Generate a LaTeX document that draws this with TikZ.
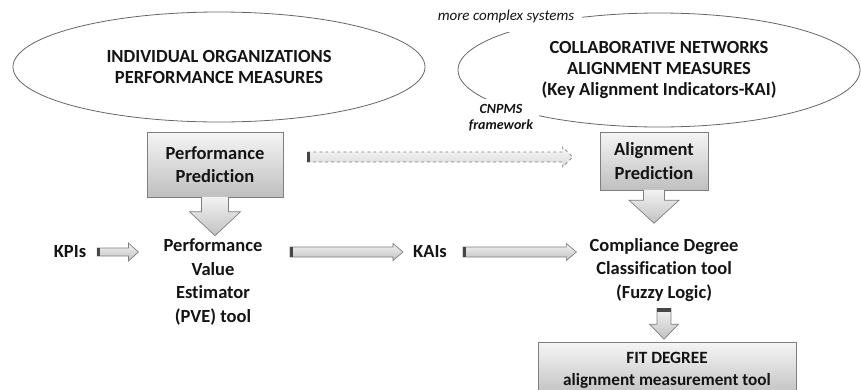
\documentclass[tikz,border=0pt]{standalone}
\usepackage{fontspec}
\setmainfont{Carlito}[Ligatures={NoCommon,NoContextual}]
\usetikzlibrary{shapes.geometric,calc}

\definecolor{rim}{HTML}{7F7F7F}
\definecolor{ink}{HTML}{141414}

\tikzset{
	txt/.style={font=\bfseries\fontsize{18.5}{23.5}\selectfont, align=center, text=ink, inner sep=0pt},
	oval/.style={ellipse, draw=rim!80!black, line width=0.8pt, font=\bfseries\fontsize{18.5}{21}\selectfont, align=center, text=ink},
	predbox/.style={rectangle, draw=rim, line width=0.7pt, top color=gray!8, bottom color=gray!50, txt},
	blockarrow/.style={draw=rim, line width=0.7pt, top color=gray!10, bottom color=gray!48},
	tailcap/.style={fill=gray!55!black},
}

% horizontal block arrow: [style]{from}{to}{shaft half}{head half}{head length}
\newcommand\harrow[6][]{%
	\path[blockarrow,#1] let \p1=#2, \p2=#3 in
		(\x1,\y1+#4pt) coordinate (ta) -- (\x2-#6pt,\y1+#4pt) -- (\x2-#6pt,\y1+#5pt) -- (\x2,\y1)
		-- (\x2-#6pt,\y1-#5pt) -- (\x2-#6pt,\y1-#4pt) -- (\x1,\y1-#4pt) -- cycle;
	\fill[tailcap] (ta) rectangle ++(3pt,-2*#4pt);}
% vertical block arrow, open at the top
\newcommand\varrow[6][]{%
	\path[blockarrow,#1] let \p1=#2, \p2=#3 in
		(\x1-#4pt,\y1) coordinate (ta) -- (\x1-#4pt,\y2+#6pt) -- (\x1-#5pt,\y2+#6pt) -- (\x1,\y2)
		-- (\x1+#5pt,\y2+#6pt) -- (\x1+#4pt,\y2+#6pt) -- (\x1+#4pt,\y1);}

\begin{document}
\begin{tikzpicture}[x=1pt,y=-1pt]
	\useasboundingbox (0,0) rectangle (861,389);
	% the two measure families
	\node (ind) at (219,67)	[oval, minimum width=412pt, minimum height=110pt, inner sep=0pt]	{INDIVIDUAL ORGANIZATIONS\\PERFORMANCE MEASURES};
	\node (cn) at (659,70)	[oval, minimum width=402pt, minimum height=114pt, inner sep=0pt]	{COLLABORATIVE NETWORKS\\ALIGNMENT MEASURES\\(Key Alignment Indicators-KAI)};
	\node (cmplx) at (506,16)	[fill=white, inner xsep=8pt, inner ysep=10pt, text=ink, font=\itshape\fontsize{15}{18}\selectfont]	{more complex systems};
	\node (cnpms) at (501,118)	[fill=white, inner sep=6pt, align=center, text=ink, font=\bfseries\itshape\fontsize{14}{16}\selectfont]	{CNPMS\\framework};

	% prediction boxes
	\node (pp) at (215,164.5)	[predbox, minimum width=136pt, minimum height=65pt]	{Performance\\Prediction};
	\node (ap) at (654,161)	[predbox, minimum width=108pt, minimum height=58pt]	{Alignment\\Prediction};

	% tools
	\node (kpi) at (70,252)	[txt]	{KPIs};
	\node (pve) at (213,282)	[txt]	{Performance\\Value\\Estimator\\(PVE) tool};
	\node (kai) at (430,252)	[txt]	{KAIs};
	\node (cdc) at (664,270)	[txt]	{Compliance Degree\\Classification tool\\(Fuzzy Logic)};
	\node (fit) at (667,370)	[predbox, minimum width=258pt, minimum height=55pt, font=\bfseries\fontsize{17.2}{22}\selectfont]	{FIT DEGREE\\alignment measurement tool};

	% block arrows
	\varrow{($(pp.south)+(0,-0.5)$)}{($(pve.north)+(0,-3)$)}{13.5}{25.5}{24}
	\varrow{($(ap.south)+(0,-0.5)$)}{($(cdc.north)+(0,-15)$)}{10.5}{25}{23}
	\harrow[dashed, top color=gray!5, bottom color=gray!30]{($(pp.east)+(24,-7.5)$)}{($(ap.west)+(-27,-4)$)}{5}{10}{10}
	\harrow{($(kpi.east)+(11,0)$)}{($(pve.west)+(-25,-30)$)}{4}{9}{10}
	\harrow{($(pve.east)+(27.5,-30)$)}{($(kai.west)+(-10,0)$)}{5}{8.5}{10}
	\harrow{($(kai.east)+(16,0)$)}{($(cdc.west)+(-13,-23)$)}{5}{8.5}{10}
	\varrow{($(cdc.south)+(0,6)$)}{($(fit.north)+(0,-3)$)}{7}{14.5}{15}
	\fill[tailcap] (ta) rectangle ++(14pt,-4pt);
\end{tikzpicture}
\end{document}
